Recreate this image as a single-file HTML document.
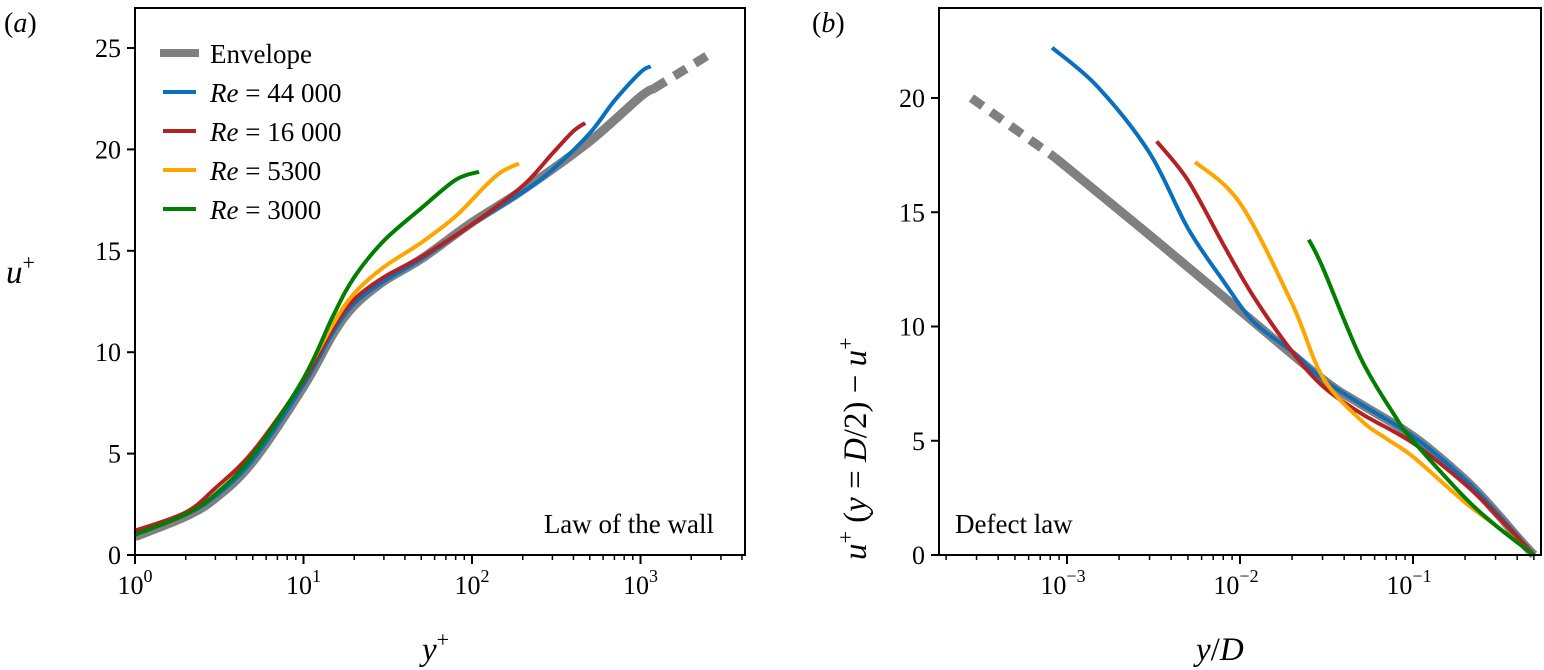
<!DOCTYPE html>
<html><head><meta charset="utf-8"><style>
body{margin:0;background:#fff}
svg{display:block;font-family:"Liberation Serif",serif}
</style></head><body>
<svg id="fig" width="1544" height="670" viewBox="0 0 1544 670" xmlns="http://www.w3.org/2000/svg"></svg>
<script>
// ---- Panel (a) data: law of the wall ----
const envAX=[1,2,3,5,10,15,20,30,50,100,200,500,1000,1200];
const envAY=[0.9,1.9,2.8,4.6,8.3,10.9,12.3,13.5,14.6,16.4,18.0,20.4,22.6,23.0];
const envADashX=[1200,2700];
const envADashY=[23.0,24.8];
const a44X=[1,2,3,5,10,15,20,30,50,100,200,300,500,700,1000,1150];
const a44Y=[1.0,2.0,2.9,4.7,8.4,11.0,12.4,13.5,14.6,16.3,17.9,19.0,20.8,22.4,23.8,24.1];
const a16X=[1,2,3,5,10,15,20,30,50,100,200,300,400,470];
const a16Y=[1.2,2.1,3.3,5.1,8.6,11.2,12.6,13.7,14.7,16.3,18.2,19.8,20.9,21.3];
const a53X=[10,15,20,30,50,80,120,150,190];
const a53Y=[8.7,11.4,12.9,14.2,15.4,16.7,18.2,18.9,19.3];
const a30X=[1,2,3,5,10,15,20,30,50,80,110];
const a30Y=[1.0,2.0,3.0,4.9,8.7,11.8,13.7,15.5,17.1,18.5,18.9];
// ---- Panel (b) data: defect law ----
const envBX=[0.00085,0.003,0.01,0.03,0.05,0.1,0.2,0.3,0.4,0.5];
const envBY=[17.4,14.0,10.7,7.7,6.6,5.2,3.3,1.9,0.8,0.0];
const envBDashX=[0.00028,0.00085];
const envBDashY=[20.0,17.4];
const b44X=[0.00082,0.0015,0.003,0.005,0.008,0.012,0.02,0.03,0.05,0.1,0.2,0.3,0.5];
const b44Y=[22.2,20.5,17.6,14.3,12.0,10.2,8.9,7.7,6.6,5.2,3.3,1.9,0.0];
const b16X=[0.0033,0.005,0.008,0.012,0.02,0.03,0.05,0.1,0.2,0.3,0.5];
const b16Y=[18.1,16.4,13.6,11.3,8.9,7.4,6.2,4.9,3.1,1.8,0.0];
const b53X=[0.0055,0.01,0.02,0.03,0.05,0.07,0.1,0.2,0.3,0.5];
const b53Y=[17.2,15.4,11.0,7.8,5.9,5.1,4.3,2.3,1.3,0.0];
const b30X=[0.025,0.03,0.05,0.08,0.1,0.2,0.3,0.5];
const b30Y=[13.8,12.6,8.6,6.0,5.0,2.5,1.3,0.0];
const ticksAY=[0,5,10,15,20,25];
const ticksBY=[0,5,10,15,20];

const NS="http://www.w3.org/2000/svg";
const svg=document.getElementById('fig');
function el(t,a,p){const e=document.createElementNS(NS,t);for(const k in a)e.setAttribute(k,a[k]);(p||svg).appendChild(e);return e;}
const axA={x0:135,x1:745,y0:8,y1:555,ppd:168.5,ppu:20.28};
const axB={x0:939,x1:1541,y0:8,y1:555,xref:1067,ppd:173,ppu:22.85};
function xA(v){return axA.x0+Math.log10(v)*axA.ppd;}
function yA(v){return axA.y1-v*axA.ppu;}
function xB(v){return axB.xref+(Math.log10(v)+3)*axB.ppd;}
function yB(v){return axB.y1-v*axB.ppu;}
function pathD(xs,ys,fx,fy){
  const p=xs.map((x,i)=>[fx(x),fy(ys[i])]);
  let d='M'+p[0][0].toFixed(1)+','+p[0][1].toFixed(1);
  for(let i=0;i<p.length-1;i++){
    const p0=p[Math.max(0,i-1)],p1=p[i],p2=p[i+1],p3=p[Math.min(p.length-1,i+2)];
    const c1=[p1[0]+(p2[0]-p0[0])/6,p1[1]+(p2[1]-p0[1])/6];
    const c2=[p2[0]-(p3[0]-p1[0])/6,p2[1]-(p3[1]-p1[1])/6];
    d+=' C'+c1.map(v=>v.toFixed(1)).join(',')+' '+c2.map(v=>v.toFixed(1)).join(',')+' '+p2[0].toFixed(1)+','+p2[1].toFixed(1);
  }
  return d;
}
const C={env:'#808080',b:'#0a6fbd',r:'#b22222',o:'#ffa500',g:'#007f00'};
function curve(xs,ys,fx,fy,col,w,name,dash){
  const e=el('path',{d:pathD(xs,ys,fx,fy),fill:'none',stroke:col,'stroke-width':w,'stroke-linecap':'butt'});
  if(dash)e.setAttribute('stroke-dasharray',dash);
  
  
}
function text(x,y,s,attrs,name){const t=el('text',Object.assign({x:x,y:y,'font-size':24,fill:'#000'},attrs||{}));t.innerHTML=s;return t;}

curve(envAX,envAY,xA,yA,C.env,9,'envelope-a');
curve(envADashX,envADashY,xA,yA,C.env,9,'envelope-a-dashed','14,10');
curve(a44X,a44Y,xA,yA,C.b,4,'line-re-44000-a');
curve(a16X,a16Y,xA,yA,C.r,4,'line-re-16000-a');
curve(a53X,a53Y,xA,yA,C.o,4,'line-re-5300-a');
curve(a30X,a30Y,xA,yA,C.g,4,'line-re-3000-a');
curve(envBX,envBY,xB,yB,C.env,9,'envelope-b');
curve(envBDashX,envBDashY,xB,yB,C.env,9,'envelope-b-dashed','14,10');
curve(b44X,b44Y,xB,yB,C.b,4,'line-re-44000-b');
curve(b16X,b16Y,xB,yB,C.r,4,'line-re-16000-b');
curve(b53X,b53Y,xB,yB,C.o,4,'line-re-5300-b');
curve(b30X,b30Y,xB,yB,C.g,4,'line-re-3000-b');

function frame(ax,name){const r=el('rect',{x:ax.x0,y:ax.y0,width:ax.x1-ax.x0,height:ax.y1-ax.y0,fill:'none',stroke:'#000','stroke-width':2});}
frame(axA,'plot-frame-a');frame(axB,'plot-frame-b');
for(let dec=0;dec<=3;dec++){for(let m=1;m<=9;m++){const v=m*Math.pow(10,dec);const x=xA(v);if(x>axA.x1)continue;
  const l=el('line',{x1:x,x2:x,y1:555,y2:555+(m==1?9:5),stroke:'#000','stroke-width':m==1?2:1.5});
  if(m==1){text(x,594,'10<tspan font-size="18" dy="-12">'+dec+'</tspan>',{'text-anchor':'middle','font-size':26},'x-tick-label-a');}}}
ticksAY.forEach(v=>{const y=yA(v);const l=el('line',{x1:127,x2:135,y1:y,y2:y,stroke:'#000','stroke-width':2});text(121,y+9,String(v),{'text-anchor':'end','font-size':26},'y-tick-label-a');});
for(let dec=-4;dec<=-1;dec++){for(let m=1;m<=9;m++){const v=m*Math.pow(10,dec);const x=xB(v);if(x<axB.x0||x>axB.x1)continue;
  const l=el('line',{x1:x,x2:x,y1:555,y2:555+(m==1?9:5),stroke:'#000','stroke-width':m==1?2:1.5});
  if(m==1){text(x-4,594,'10<tspan font-size="18" dy="-12">−'+(-dec)+'</tspan>',{'text-anchor':'middle','font-size':26},'x-tick-label-b');}}}
ticksBY.forEach(v=>{const y=yB(v);const l=el('line',{x1:931,x2:939,y1:y,y2:y,stroke:'#000','stroke-width':2});text(925,y+9,String(v),{'text-anchor':'end','font-size':26},'y-tick-label-b');});

text(4,32,'(<tspan font-style="italic">a</tspan>)',{'font-size':28},'panel-label-a');
text(812,32,'(<tspan font-style="italic">b</tspan>)',{'font-size':28},'panel-label-b');
text(6,283,'<tspan font-style="italic">u</tspan><tspan font-size="22" dy="-13">+</tspan>',{'font-size':33},'y-axis-title-a');
text(422,660,'<tspan font-style="italic">y</tspan><tspan font-size="22" dy="-13">+</tspan>',{'font-size':33},'x-axis-title-a');
text(1196,660,'<tspan font-style="italic">y</tspan>/<tspan font-style="italic">D</tspan>',{'font-size':33},'x-axis-title-b');
text(0,0,'<tspan font-style="italic">u</tspan><tspan font-size="22" dy="-13">+</tspan><tspan dy="13"> (</tspan><tspan font-style="italic">y</tspan> = <tspan font-style="italic">D</tspan>/2) − <tspan font-style="italic">u</tspan><tspan font-size="22" dy="-13">+</tspan>',{'font-size':33,transform:'translate(866,560) rotate(-90)'},'y-axis-title-b');
text(714,533,'Law of the wall',{'text-anchor':'end','font-size':27},'annotation-law-of-wall');
text(955,533,'Defect law',{'font-size':27},'annotation-defect-law');

const legNames=['Envelope','<tspan font-style="italic">Re</tspan> = 44 000','<tspan font-style="italic">Re</tspan> = 16 000','<tspan font-style="italic">Re</tspan> = 5300','<tspan font-style="italic">Re</tspan> = 3000'];
const legCols=[C.env,C.b,C.r,C.o,C.g];
const legKeys=['legend-entry-envelope','legend-entry-re-44000','legend-entry-re-16000','legend-entry-re-5300','legend-entry-re-3000'];
const lg=el('g',{});
legNames.forEach((n,i)=>{const y=53+i*39;
  const l=el('line',{x1:i?163:160,x2:i?196:199,y1:y,y2:y,stroke:legCols[i],'stroke-width':i?4:8},lg);
  
  const t=text(210,y+10,n,{'font-size':27},legKeys[i]);lg.appendChild(t);});
</script>
</body></html>
